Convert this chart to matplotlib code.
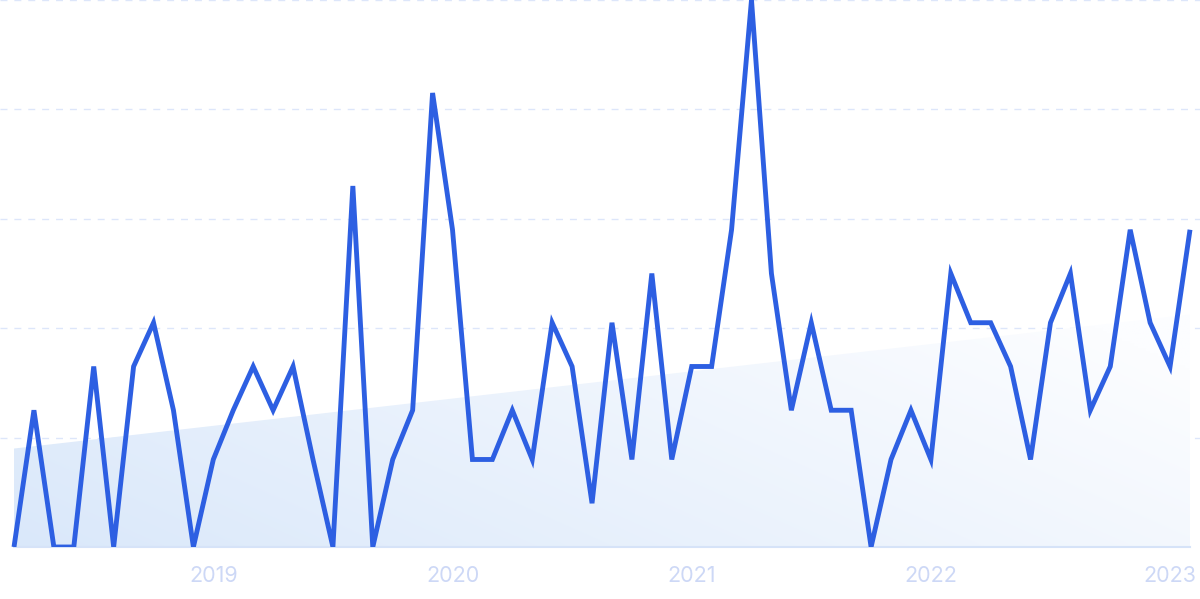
import matplotlib
matplotlib.use("Agg")
import matplotlib.pyplot as plt
import numpy as np
from matplotlib.patches import Polygon

# Monthly values, Mar 2018 .. Feb 2023 (0-100 scale)
values = [0, 25, 0, 0, 33, 0, 33, 41, 25, 0,
          16, 25, 33, 25, 33, 16, 0, 66, 0, 16,
          25, 83, 58, 16, 16, 25, 16, 41, 33, 8,
          41, 16, 50, 16, 33, 33, 58, 100, 50, 25,
          41, 25, 25, 0, 16, 25, 16, 50, 41, 41,
          33, 16, 41, 50, 25, 33, 58, 41, 33, 58]
year_labels = ["2019", "2020", "2021", "2022", "2023"]
year_index = [10, 22, 34, 46, 58]   # January positions in the monthly series
trend_start, trend_end = 18.0, 42.5  # trend line

W, H = 1200, 599
fig = plt.figure(figsize=(W / 100, H / 100), dpi=100)
step = (1190 - 14) / 59.0
x0 = -14 / step
x1 = (W - 14) / step
ax = fig.add_axes([0, (H - 547) / H, 1, 547 / H])
ax.set_xlim(x0, x1)
ax.set_ylim(0, 100)

n = len(values)
xs = np.arange(n)

# gridlines
for gy in [20, 40, 60, 80, 100]:
    ax.axhline(gy, color="#dde6fa", lw=1.0, dashes=(5, 5), zorder=1)
ax.plot([0, n - 1], [0, 0], color="#d6e3f8", lw=1.5, zorder=2, clip_on=False)

# gradient trend area
poly = Polygon([[0, 0], [0, trend_start], [n - 1, trend_end], [n - 1, 0]],
               closed=True, facecolor="none", edgecolor="none")
ax.add_patch(poly)
gx, gy = np.meshgrid(np.linspace(0, 1, 300), np.linspace(0, 1, 100))
t = np.clip(0.75 * gx + 0.35 * (1 - gy), 0, 1)
c0 = np.array([218, 232, 250]) / 255.0
c1 = np.array([252, 253, 255]) / 255.0
img = c0[None, None, :] * (1 - t[..., None]) + c1[None, None, :] * t[..., None]
im = ax.imshow(img, extent=[0, n - 1, 0, 45], origin="upper", aspect="auto",
               zorder=1.5, interpolation="bilinear")
im.set_clip_path(poly)

ax.plot(xs, values, color="#2d5fe2", lw=3.5, solid_joinstyle="miter",
        solid_capstyle="butt", zorder=3)

ax.set_xticks(year_index)
ax.set_xticklabels(year_labels)
ax.tick_params(axis="x", length=0, pad=14, labelsize=15.5, labelcolor="#cdd8f6")
for lab in ax.get_xticklabels():
    lab.set_fontfamily("Inter")
ax.set_yticks([])
for s in ax.spines.values():
    s.set_visible(False)

fig.savefig("out.png", dpi=100)
